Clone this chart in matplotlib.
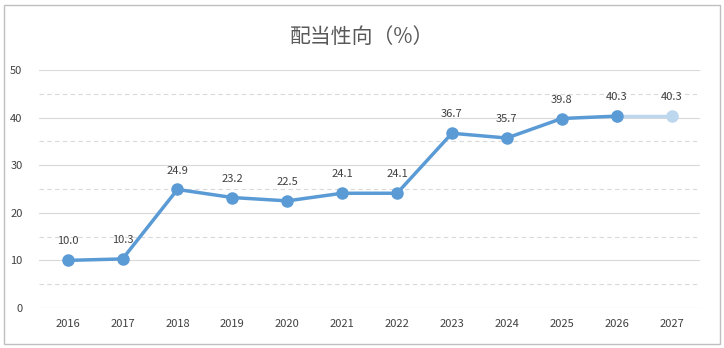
import matplotlib.pyplot as plt
from matplotlib.patches import Rectangle

plt.rcParams['font.family'] = ['Noto Sans CJK JP', 'DejaVu Sans']

years = ['2016', '2017', '2018', '2019', '2020', '2021', '2022',
         '2023', '2024', '2025', '2026', '2027']
payout = [10.0, 10.3, 24.9, 23.2, 22.5, 24.1, 24.1, 36.7, 35.7, 39.8, 40.3, 40.3]
n_actual = 11  # 2027 is a forecast

blue = '#5B9BD5'
light = '#BDD7EE'
txt = '#404040'

fig = plt.figure(figsize=(7.24, 3.48), dpi=100)
ax = fig.add_axes([0.054, 0.115, 0.913, 0.684])

x = list(range(len(years)))

# gridlines
for v in range(0, 51, 10):
    ax.axhline(v, color='#D9D9D9', lw=0.8, zorder=0)
for v in range(5, 50, 10):
    ax.axhline(v, color='#D9D9D9', lw=0.8, ls=(0, (4, 3)), zorder=0)

ax.plot(x[n_actual - 1:], payout[n_actual - 1:], color=light, lw=2.5,
        marker='o', ms=8, zorder=2)
ax.plot(x[:n_actual], payout[:n_actual], color=blue, lw=2.5,
        marker='o', ms=8, zorder=3)

for xi, v in zip(x, payout):
    ax.annotate(f'{v:.1f}', (xi, v), xytext=(0, 10), textcoords='offset points',
                ha='center', va='bottom', fontsize=8, color=txt)

ax.set_xlim(-0.52, len(years) - 0.48)
ax.set_ylim(0, 50)
ax.set_xticks(x)
ax.set_xticklabels(years)
ax.set_yticks(range(0, 51, 10))
ax.tick_params(length=0, labelsize=8, labelcolor=txt)
ax.tick_params(axis='y', pad=12)
ax.tick_params(axis='x', pad=8)
for s in ax.spines.values():
    s.set_visible(False)

fig.text(0.5, 0.893, '配当性向（%）', ha='center', va='center',
         fontsize=15, color='#595959')

fig.patches.append(Rectangle((0.006, 0.012), 0.988, 0.975, transform=fig.transFigure,
                             fill=False, ec='#BFBFBF', lw=1))

fig.savefig('out.png', dpi=100)
